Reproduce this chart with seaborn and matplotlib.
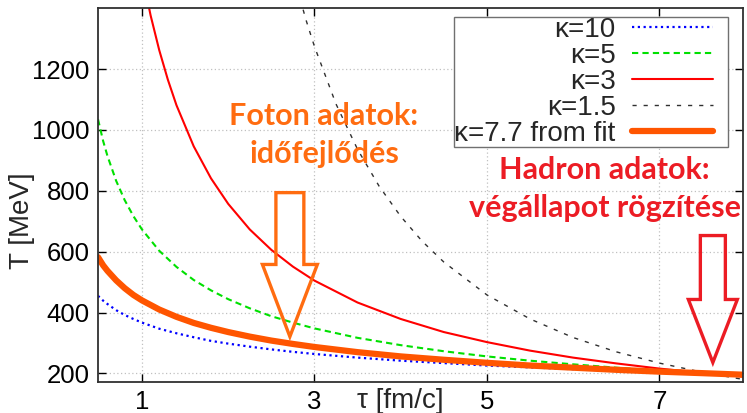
import numpy as np
import pandas as pd
import matplotlib
matplotlib.use("Agg")
import matplotlib.pyplot as plt
from matplotlib.patches import FancyArrow
from matplotlib.lines import Line2D
from matplotlib.legend_handler import HandlerLine2D
import seaborn as sns

# values (tau in fm/c, T in MeV)
tau_a = [0.49, 0.55, 0.6, 0.7, 0.8, 0.9, 1.0, 1.2, 1.4, 1.6, 1.8, 2.0, 2.25,
         2.5, 2.75, 3.0, 3.5, 4.0, 4.5, 5.0, 5.5, 6.0, 6.5, 7.0, 7.5, 7.96]
T_k10 = [455, 439, 428, 408, 392, 379, 367, 347, 332, 319, 307, 298, 288,
         279, 271, 264, 252, 242, 234, 226, 220, 214, 209, 205, 200, 197]
T_k5 = [1035, 963, 914, 833, 769, 717, 673, 603, 550, 507, 473, 444, 414,
        388, 367, 348, 317, 293, 273, 256, 242, 230, 219, 209, 201, 194]
T_fit = [582, 555, 537, 506, 480, 458, 440, 410, 386, 366, 350, 336, 321,
         308, 297, 287, 270, 256, 245, 235, 226, 219, 212, 206, 201, 196]

tau_k3 = [1.0, 1.1, 1.2, 1.3, 1.4, 1.6, 1.8, 2.0, 2.25, 2.5, 2.75, 3.0, 3.5,
          4.0, 4.5, 5.0, 5.5, 6.0, 6.5, 7.0, 7.5, 7.96]
T_k3 = [1514, 1376, 1262, 1165, 1081, 946, 841, 757, 673, 606, 551, 505, 433,
        379, 336, 303, 275, 252, 233, 216, 202, 190]

tau_k15 = [2.75, 2.9, 3.0, 3.25, 3.5, 3.75, 4.0, 4.25, 4.5, 5.0, 5.5, 6.0,
           6.5, 7.0, 7.5, 7.96]
T_k15 = [1516, 1363, 1274, 1085, 936, 815, 716, 634, 566, 458, 379, 318,
         271, 234, 204, 181]

labels = ["κ=10", "κ=5", "κ=3", "κ=1.5", "κ=7.7 from fit"]
xticks = [1, 3, 5, 7]
yticks = [200, 400, 600, 800, 1000, 1200]


class ShortLine(HandlerLine2D):
    # leave a little gap between the legend sample and the right frame edge
    def create_artists(self, legend, orig_handle, xdescent, ydescent,
                       width, height, fontsize, trans):
        return super().create_artists(legend, orig_handle, xdescent, ydescent,
                                      width - 0.55 * fontsize, height,
                                      fontsize, trans)


sns.set_style("ticks")
plt.rcParams['font.family'] = ['Liberation Sans', 'DejaVu Sans']

fig = plt.figure(figsize=(7.47, 4.13), dpi=100)
ax = fig.add_axes([0.1312, 0.0751, 0.8635, 0.9067])

series = [
    (tau_a, T_k10, dict(color="#0000ff", lw=1.6, ls=(0, (1, 1.6)))),
    (tau_a, T_k5, dict(color="#00e000", lw=1.5, ls=(0, (3, 2)))),
    (tau_k3, T_k3, dict(color="#ff0000", lw=1.5, ls="-")),
    (tau_k15, T_k15, dict(color="#303030", lw=1.0, ls=(0, (3, 5)))),
    (tau_a, T_fit, dict(color="#ff5500", lw=4.5, ls="-")),
]
for (x, y, st), lab in zip(series, labels):
    df = pd.DataFrame({"tau": x, "T": y})
    sns.lineplot(data=df, x="tau", y="T", ax=ax, label=lab,
                 color=st["color"], linewidth=st["lw"], linestyle=st["ls"])

ax.set_xlim(0.49, 7.97)
ax.set_ylim(172, 1402)
ax.set_xticks(xticks)
ax.set_yticks(yticks)
ax.grid(True, color="#c0c0c0", linestyle=(0, (1, 2)), linewidth=0.9)
ax.tick_params(direction="in", top=True, right=True, length=6, width=1,
               labelsize=18.5, pad=6, colors="black")
for sp in ax.spines.values():
    sp.set_linewidth(1.3)
    sp.set_color("#303030")

ax.set_xlabel("")
ax.set_ylabel("T [MeV]", fontsize=20)
ax.yaxis.set_label_coords(-0.097, 0.43)
ax.annotate("τ [fm/c]", xy=(4, 0), xycoords=("data", "axes fraction"),
            xytext=(0, -4.5), textcoords="offset points",
            ha="center", va="top", fontsize=20)

leg = ax.legend(loc="upper right", bbox_to_anchor=(0.9767, 0.975),
                markerfirst=False, fontsize=20, frameon=True, fancybox=False,
                borderaxespad=0, borderpad=0.0, labelspacing=0.0,
                handlelength=3.45, handletextpad=0.6, framealpha=1,
                handler_map={Line2D: ShortLine()})
leg.get_frame().set_edgecolor("#707070")
leg.get_frame().set_linewidth(1.0)

orange = "#ff6c10"
red = "#ec1c24"
ax.text(3.11, 984, "Foton adatok:\nidőfejlődés", color=orange,
        fontsize=22, fontweight="bold", family=["Lato", "DejaVu Sans"],
        ha="center", va="center", linespacing=1.45)
ax.text(6.365, 805, "Hadron adatok:\nvégállapot rögzítése", color=red,
        fontsize=22, fontweight="bold", family=["Lato", "DejaVu Sans"],
        ha="center", va="center", linespacing=1.45)

ax.add_patch(FancyArrow(2.715, 794, 0, -473, width=0.324, head_width=0.637,
                        head_length=237, length_includes_head=True,
                        fill=False, ec=orange, lw=2.4, zorder=5))
ax.add_patch(FancyArrow(7.62, 653, 0, -417, width=0.29, head_width=0.568,
                        head_length=207, length_includes_head=True,
                        fill=False, ec=red, lw=2.4, zorder=5))

fig.savefig("out.png", dpi=100)
